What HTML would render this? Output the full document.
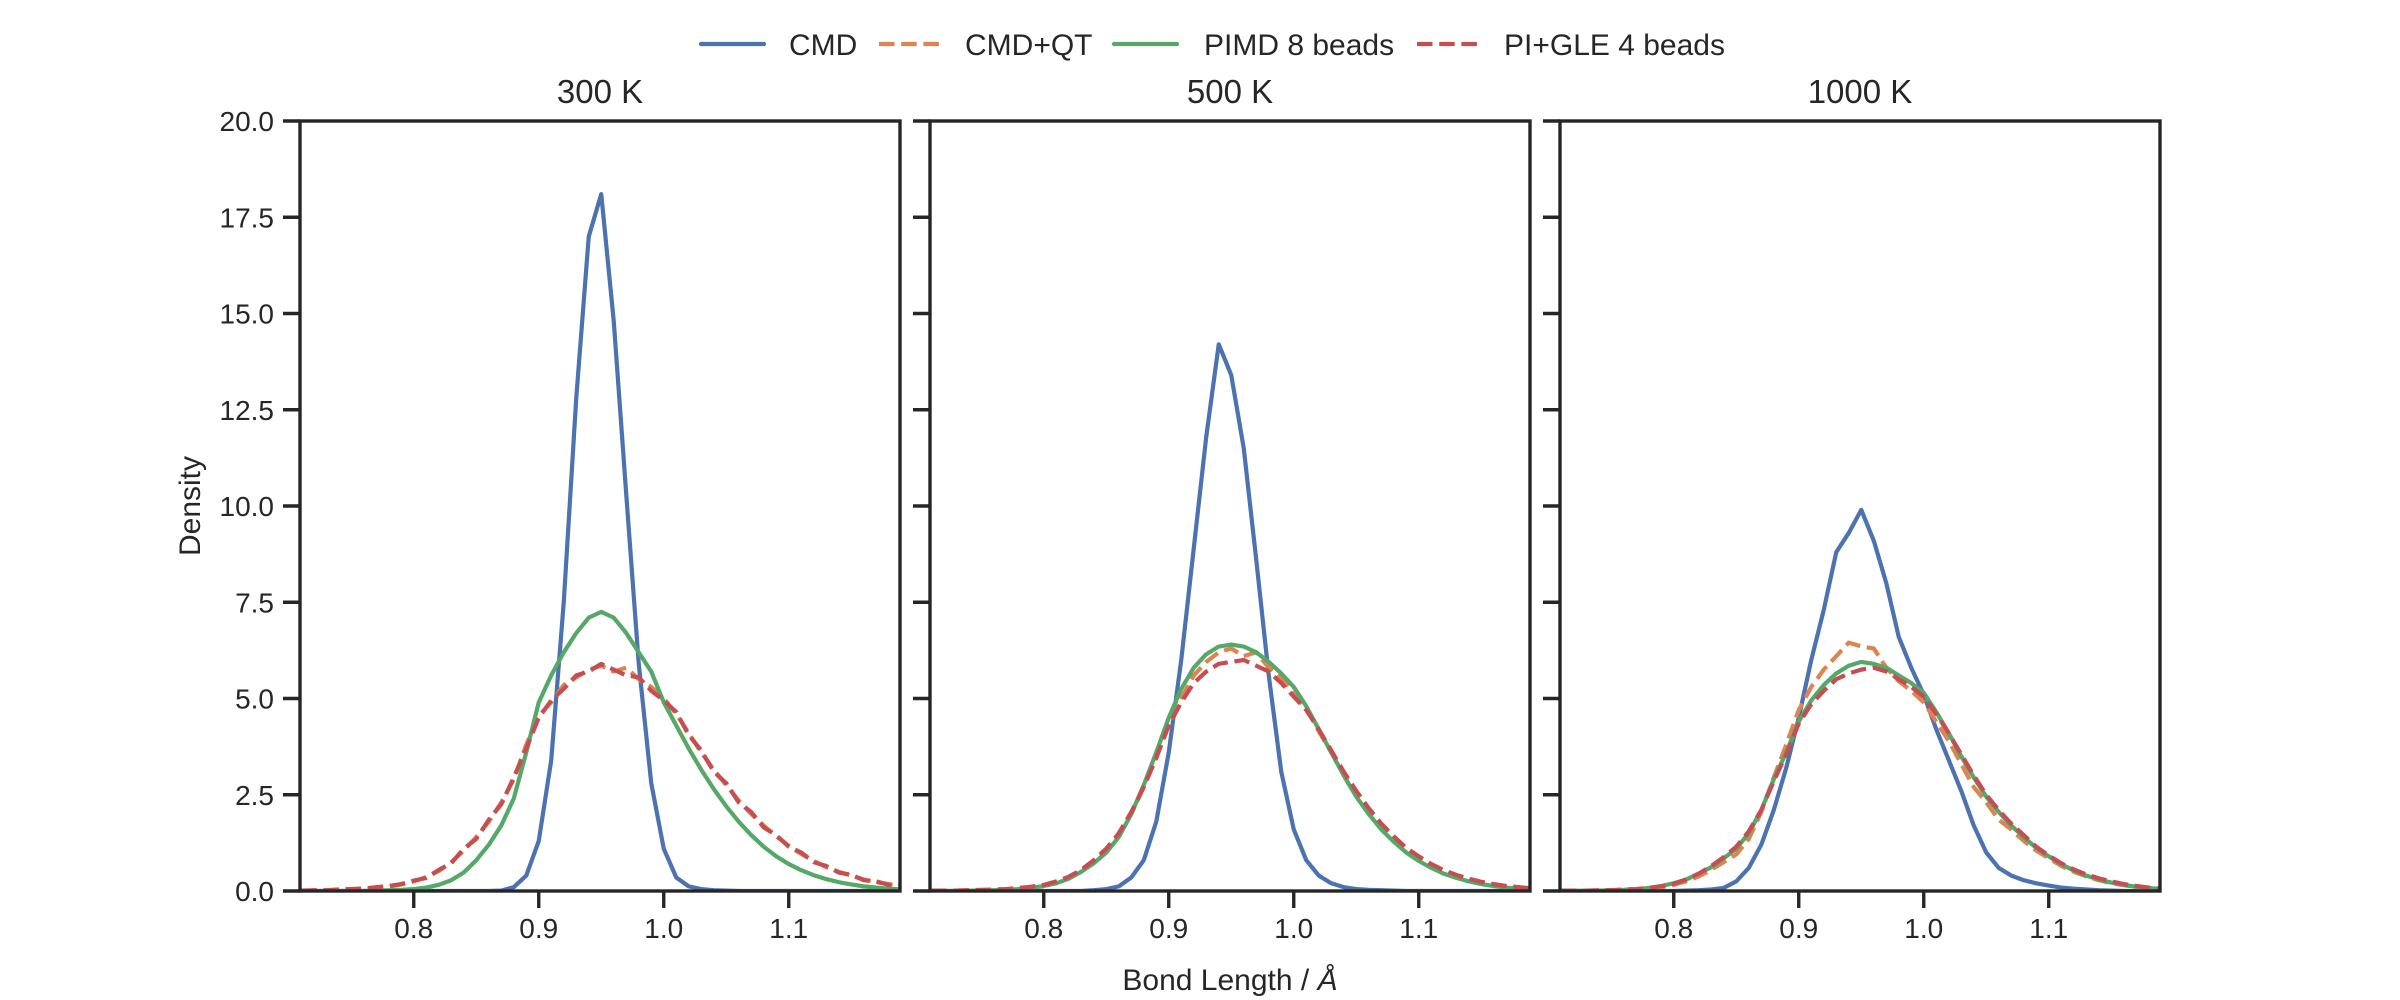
<!DOCTYPE html>
<html>
<head>
<meta charset="utf-8">
<style>
  html, body { margin: 0; padding: 0; background: #ffffff; }
  svg { display: block; font-family: "Liberation Sans", Arial, sans-serif; }
</style>
</head>
<body>
<svg id="chart" width="2400" height="1000" viewBox="0 0 2400 1000" xmlns="http://www.w3.org/2000/svg">
  <rect x="0" y="0" width="2400" height="1000" fill="#ffffff"/>
  <defs>
    <clipPath id="clip0"><rect x="300" y="121" width="600" height="770"/></clipPath>
    <clipPath id="clip1"><rect x="930" y="121" width="600" height="770"/></clipPath>
    <clipPath id="clip2"><rect x="1560" y="121" width="600" height="770"/></clipPath>
  </defs>
  <g id="legend">
    <g>
      <line x1="701" y1="44" x2="764" y2="44" stroke="#4c72b0" stroke-width="4.2" stroke-linecap="round"/>
      <text x="789" y="55" font-size="30" fill="#262626">CMD</text>
    </g>
    <g>
      <line x1="879" y1="44" x2="942" y2="44" stroke="#dd8452" stroke-width="4.2" stroke-dasharray="15.5,6.7"/>
      <text x="965" y="55" font-size="30" fill="#262626">CMD+QT</text>
    </g>
    <g>
      <line x1="1114" y1="44" x2="1177" y2="44" stroke="#55a868" stroke-width="4.2" stroke-linecap="round"/>
      <text x="1204" y="55" font-size="30" fill="#262626">PIMD 8 beads</text>
    </g>
    <g>
      <line x1="1417" y1="44" x2="1480" y2="44" stroke="#c44e52" stroke-width="4.2" stroke-dasharray="15.5,6.7"/>
      <text x="1504" y="55" font-size="30" fill="#262626">PI+GLE 4 beads</text>
    </g>
  </g>
  <text x="1230" y="990" font-size="30" fill="#262626" text-anchor="middle">Bond Length / <tspan font-style="italic">Å</tspan></text>
  <text transform="translate(200,506) rotate(-90)" font-size="30" fill="#262626" text-anchor="middle">Density</text>
</svg>
<script>
const xs = [0.71,0.72,0.73,0.74,0.75,0.76,0.77,0.78,0.79,0.80,0.81,0.82,0.83,0.84,0.85,0.86,0.87,0.88,0.89,0.90,0.91,0.92,0.93,0.94,0.95,0.96,0.97,0.98,0.99,1.00,1.01,1.02,1.03,1.04,1.05,1.06,1.07,1.08,1.09,1.10,1.11,1.12,1.13,1.14,1.15,1.16,1.17,1.18,1.19];
const panelTitles = ["300 K", "500 K", "1000 K"];
const seriesNames = ["CMD", "CMD+QT", "PIMD 8 beads", "PI+GLE 4 beads"];
const xTickValues = [0.8, 0.9, 1.0, 1.1];
const xTickLabels = ["0.8", "0.9", "1.0", "1.1"];
const yTickValues = [0, 2.5, 5, 7.5, 10, 12.5, 15, 17.5, 20];
const yTickLabels = ["0.0", "2.5", "5.0", "7.5", "10.0", "12.5", "15.0", "17.5", "20.0"];

const cmd300 = [0,0,0,0,0,0,0,0,0,0,0,0,0,0,0,0,0.01,0.1,0.4,1.3,3.4,7.5,12.8,17.0,18.1,14.8,10.3,5.9,2.8,1.1,0.35,0.12,0.05,0.02,0.01,0,0,0,0,0,0,0,0,0,0,0,0,0,0];
const cmdqt300 = [0.01,0.01,0.02,0.03,0.05,0.07,0.09,0.11,0.17,0.25,0.36,0.52,0.75,1.05,1.4,1.8,2.3,2.9,3.8,4.55,4.9,5.35,5.55,5.75,5.85,5.7,5.8,5.5,5.3,5.0,4.6,4.1,3.6,3.15,2.75,2.35,2.0,1.7,1.42,1.18,0.96,0.78,0.62,0.5,0.4,0.3,0.23,0.18,0.14];
const pimd300 = [0,0,0,0,0,0,0.01,0.02,0.03,0.05,0.09,0.16,0.28,0.48,0.8,1.2,1.7,2.4,3.6,4.9,5.6,6.2,6.7,7.1,7.25,7.1,6.7,6.2,5.7,4.9,4.3,3.7,3.15,2.65,2.2,1.8,1.45,1.15,0.9,0.7,0.54,0.41,0.31,0.23,0.17,0.12,0.09,0.06,0.04];
const pigle300 = [0.01,0.02,0.02,0.04,0.05,0.06,0.1,0.13,0.18,0.27,0.34,0.55,0.72,1.1,1.35,1.85,2.25,2.95,3.7,4.5,4.95,5.25,5.6,5.7,5.9,5.75,5.6,5.55,5.2,4.95,4.65,4.05,3.65,3.1,2.8,2.3,2.05,1.65,1.45,1.15,1.0,0.75,0.65,0.48,0.42,0.28,0.25,0.16,0.15];

const cmd500 = [0,0,0,0,0,0,0,0,0,0,0,0,0,0.02,0.05,0.12,0.35,0.8,1.8,3.6,6.0,8.9,11.8,14.2,13.4,11.5,8.6,5.6,3.1,1.6,0.8,0.4,0.2,0.1,0.05,0.03,0.02,0.01,0,0,0,0,0,0,0,0,0,0,0];
const cmdqt500 = [0,0.01,0.01,0.02,0.02,0.03,0.05,0.07,0.1,0.15,0.23,0.35,0.52,0.75,1.05,1.45,2.0,2.7,3.5,4.35,5.0,5.6,5.95,6.2,6.3,6.1,6.2,5.8,5.55,5.1,4.75,4.15,3.6,3.05,2.5,2.05,1.7,1.35,1.08,0.85,0.66,0.5,0.38,0.29,0.21,0.15,0.11,0.08,0.05];
const pimd500 = [0,0,0,0.01,0.01,0.02,0.03,0.05,0.08,0.13,0.2,0.32,0.5,0.72,1.0,1.4,2.0,2.75,3.6,4.5,5.25,5.8,6.15,6.35,6.4,6.35,6.2,5.95,5.65,5.3,4.8,4.2,3.6,3.0,2.45,2.0,1.6,1.28,1.0,0.78,0.6,0.45,0.34,0.25,0.18,0.13,0.09,0.06,0.04];
const pigle500 = [0.01,0.01,0.01,0.02,0.03,0.04,0.05,0.08,0.11,0.16,0.25,0.37,0.55,0.8,1.1,1.5,2.05,2.7,3.45,4.3,4.9,5.4,5.7,5.9,5.95,6.0,5.85,5.7,5.4,5.05,4.7,4.2,3.65,3.1,2.6,2.15,1.75,1.42,1.12,0.9,0.7,0.54,0.42,0.32,0.24,0.18,0.13,0.1,0.07];

const cmd1000 = [0,0,0,0,0,0,0,0,0,0,0.01,0.02,0.04,0.08,0.25,0.6,1.2,2.1,3.2,4.5,6.0,7.3,8.8,9.3,9.9,9.1,8.0,6.6,5.8,5.1,4.2,3.4,2.6,1.7,1.0,0.6,0.4,0.28,0.2,0.14,0.09,0.06,0.04,0.02,0.01,0,0,0,0];
const cmdqt1000 = [0,0,0.01,0.01,0.02,0.03,0.04,0.07,0.1,0.16,0.25,0.38,0.55,0.75,0.95,1.35,2.05,2.95,3.8,4.7,5.3,5.75,6.1,6.45,6.35,6.3,5.8,5.45,5.2,4.9,4.4,3.9,3.3,2.7,2.3,1.85,1.6,1.3,1.05,0.85,0.65,0.5,0.38,0.28,0.2,0.15,0.1,0.07,0.05];
const pimd1000 = [0,0,0.01,0.01,0.02,0.03,0.05,0.08,0.13,0.2,0.3,0.45,0.62,0.85,1.1,1.5,2.1,2.9,3.6,4.4,4.95,5.35,5.65,5.85,5.95,5.9,5.8,5.6,5.4,5.15,4.65,4.1,3.5,2.95,2.45,2.05,1.7,1.4,1.12,0.9,0.7,0.53,0.4,0.3,0.22,0.16,0.11,0.08,0.05];
const pigle1000 = [0.01,0.01,0.01,0.02,0.02,0.04,0.05,0.08,0.12,0.19,0.3,0.45,0.65,0.88,1.15,1.55,2.1,2.85,3.55,4.35,4.85,5.2,5.5,5.65,5.75,5.8,5.7,5.5,5.3,5.05,4.6,4.1,3.55,3.0,2.5,2.1,1.75,1.45,1.15,0.92,0.72,0.56,0.43,0.33,0.25,0.18,0.13,0.09,0.06];

const panelData = [
  [cmd300, cmdqt300, pimd300, pigle300],
  [cmd500, cmdqt500, pimd500, pigle500],
  [cmd1000, cmdqt1000, pimd1000, pigle1000]
];

const NS = "http://www.w3.org/2000/svg";
const svgEl = document.getElementById("chart");
const colors = ["#4c72b0", "#dd8452", "#55a868", "#c44e52"];
const dashes = [null, "15.5,6.7", null, "15.5,6.7"];
const seriesKeys = ["cmd", "cmd-qt", "pimd", "pi-gle"];
const panelLefts = [300, 930, 1560];
const panelW = 600, plotTop = 121, plotBottom = 891;
const xMin = 0.709, xMax = 1.189, yMin = 0, yMax = 20;
const ink = "#262626";

function mk(tag, attrs) {
  const e = document.createElementNS(NS, tag);
  for (const k in attrs) e.setAttribute(k, attrs[k]);
  return e;
}
function xScale(p, v) { return panelLefts[p] + (v - xMin) / (xMax - xMin) * panelW; }
function yScale(v) { return plotBottom - (v - yMin) / (yMax - yMin) * (plotBottom - plotTop); }

panelData.forEach((series, p) => {
  const g = mk("g", {});
  
  
  svgEl.appendChild(g);

  const lines = mk("g", { "clip-path": "url(#clip" + p + ")" });
  
  
  g.appendChild(lines);
  series.forEach((vals, s) => {
    let d = "";
    vals.forEach((v, i) => {
      d += (i ? "L" : "M") + xScale(p, xs[i]).toFixed(2) + "," + yScale(v).toFixed(2);
    });
    const path = mk("path", { d: d, fill: "none", stroke: colors[s], "stroke-width": 4.2, "stroke-linejoin": "round" });
    if (dashes[s]) path.setAttribute("stroke-dasharray", dashes[s]);
    
    
    lines.appendChild(path);
  });

  const frame = mk("rect", { x: panelLefts[p], y: plotTop, width: panelW, height: plotBottom - plotTop, fill: "none", stroke: ink, "stroke-width": 3.4 });
  
  
  g.appendChild(frame);

  const title = mk("text", { x: panelLefts[p] + panelW / 2, y: 103, "font-size": 33, fill: ink, "text-anchor": "middle" });
  title.textContent = panelTitles[p];
  
  
  g.appendChild(title);

  xTickValues.forEach((v, i) => {
    const x = xScale(p, v);
    const t = mk("line", { x1: x, y1: plotBottom, x2: x, y2: plotBottom + 17, stroke: ink, "stroke-width": 3.4 });
    
    
    g.appendChild(t);
    const l = mk("text", { x: x, y: 938, "font-size": 28, fill: ink, "text-anchor": "middle" });
    l.textContent = xTickLabels[i];
    
    
    g.appendChild(l);
  });

  yTickValues.forEach((v, i) => {
    const y = yScale(v);
    const t = mk("line", { x1: panelLefts[p] - 17, y1: y, x2: panelLefts[p], y2: y, stroke: ink, "stroke-width": 3.4 });
    
    
    g.appendChild(t);
    if (p === 0) {
      const l = mk("text", { x: 274, y: y + 10, "font-size": 28, fill: ink, "text-anchor": "end" });
      l.textContent = yTickLabels[i];
      
      
      g.appendChild(l);
    }
  });
});
svgEl.appendChild(document.getElementById("legend"));
</script>
</body>
</html>
